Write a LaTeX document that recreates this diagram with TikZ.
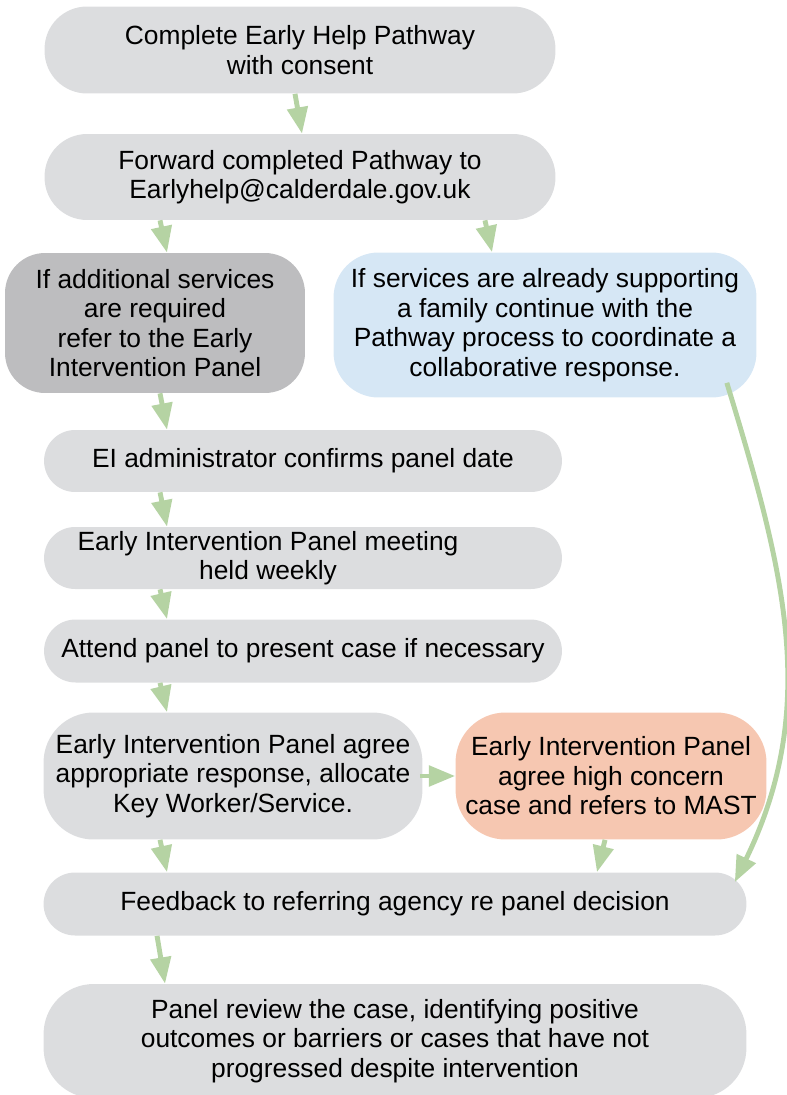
\documentclass[tikz,border=0pt]{standalone}
\usepackage{fontspec}
\setmainfont{Liberation Sans}
\usetikzlibrary{arrows.meta}

\definecolor{panelgray}{HTML}{DCDDDF}
\definecolor{panelgraydark}{HTML}{BDBDBF}
\definecolor{panelblue}{HTML}{D6E7F5}
\definecolor{panelsalmon}{HTML}{F6C7B1}
\definecolor{flowgreen}{HTML}{B5D3A3}

\tikzset{
  stage/.style={fill=panelgray, inner sep=0pt, align=center,
    font=\fontsize{15}{16.8}\selectfont},
  flow/.style={flowgreen, line width=2.8pt,
    -{Triangle[width=11.5pt,length=15pt]}},
}

\begin{document}
\begin{tikzpicture}[x=0.02cm, y=-0.02cm]
    \useasboundingbox (0,0) rectangle (787,1095);

    % boxes
    \node[stage, minimum width=10.22cm, minimum height=1.74cm, rounded corners=0.85cm] (pathway) at (300,50)
      {Complete Early Help Pathway\\with consent};
    \node[stage, minimum width=10.22cm, minimum height=1.72cm, rounded corners=0.85cm] (forward) at (300,177)
      {Forward completed Pathway to\\Earlyhelp@calderdale.gov.uk};
    \node[stage, fill=panelgraydark, minimum width=6cm, minimum height=2.8cm, rounded corners=0.8cm] (additional) at (155,323)
      {If additional services\\are required\\refer to the Early\\Intervention Panel};
    \node[stage, fill=panelblue, minimum width=8.46cm, minimum height=2.9cm, rounded corners=0.9cm] (supporting) at (545,325)
      {If services are already supporting\\a family continue with the\\Pathway process to coordinate a\\collaborative response.};
    \node[stage, minimum width=10.36cm, minimum height=1.24cm, rounded corners=0.62cm] (admin) at (303,461)
      {EI administrator confirms panel date};
    \node[stage, minimum width=10.36cm, minimum height=1.24cm, rounded corners=0.62cm] (meeting) at (303,558)
      {Early Intervention Panel meeting\hspace*{1.4cm}\\held weekly\hspace*{1.4cm}};
    \node[stage, minimum width=10.36cm, minimum height=1.26cm, rounded corners=0.63cm] (attend) at (303,651)
      {Attend panel to present case if necessary};
    \node[stage, minimum width=7.58cm, minimum height=2.54cm, rounded corners=1cm] (agree) at (233,776)
      {Early Intervention Panel agree\\appropriate response, allocate\\Key Worker/Service.};
    \node[stage, fill=panelsalmon, minimum width=6.22cm, minimum height=2.54cm, rounded corners=1cm] (mast) at (611,776)
      {Early Intervention Panel\\agree high concern\\case and refers to MAST};
    \node[stage, minimum width=14.06cm, minimum height=1.26cm, rounded corners=0.63cm] (feedback) at (395,904)
      {Feedback to referring agency re panel decision};
    \node[stage, minimum width=14.06cm, minimum height=2.28cm, rounded corners=1cm] (review) at (395,1041)
      {Panel review the case, identifying positive\\outcomes or barriers or cases that have not\\progressed despite intervention};

    % arrows
    \draw[flow] ([xshift=-0.1cm]pathway.south) -- ([xshift=0.04cm]forward.north);
    \draw[flow] ([xshift=-2.8cm]forward.south) -- ([xshift=0.24cm]additional.north);
    \draw[flow] ([xshift=3.7cm]forward.south) -- ([xshift=-1.06cm]supporting.north);
    \draw[flow] ([xshift=0.1cm]additional.south) -- ([xshift=-2.72cm]admin.north);
    \draw[flow] ([xshift=-2.86cm]admin.south) -- ([xshift=-2.72cm]meeting.north);
    \draw[flow] ([xshift=-2.86cm]meeting.south) -- ([xshift=-2.72cm]attend.north);
    \draw[flow] ([xshift=-2.86cm]attend.south) -- ([xshift=-1.32cm]agree.north);
    \draw[flow] ([xshift=-0.06cm]agree.east) -- (mast.west);
    \draw[flow] ([xshift=-1.46cm]agree.south) -- ([xshift=-4.56cm]feedback.north);
    \draw[flow] ([xshift=-0.12cm]mast.south) -- ([xshift=4.04cm]feedback.north);
    \draw[flow] ([xshift=-0.6cm,yshift=0.3cm]supporting.south east)
      to[out=-73, in=64] ([xshift=-0.24cm,yshift=-0.2cm]feedback.north east);
    \draw[flow] ([xshift=-4.76cm]feedback.south) -- ([xshift=-4.6cm]review.north);
\end{tikzpicture}
\end{document}
